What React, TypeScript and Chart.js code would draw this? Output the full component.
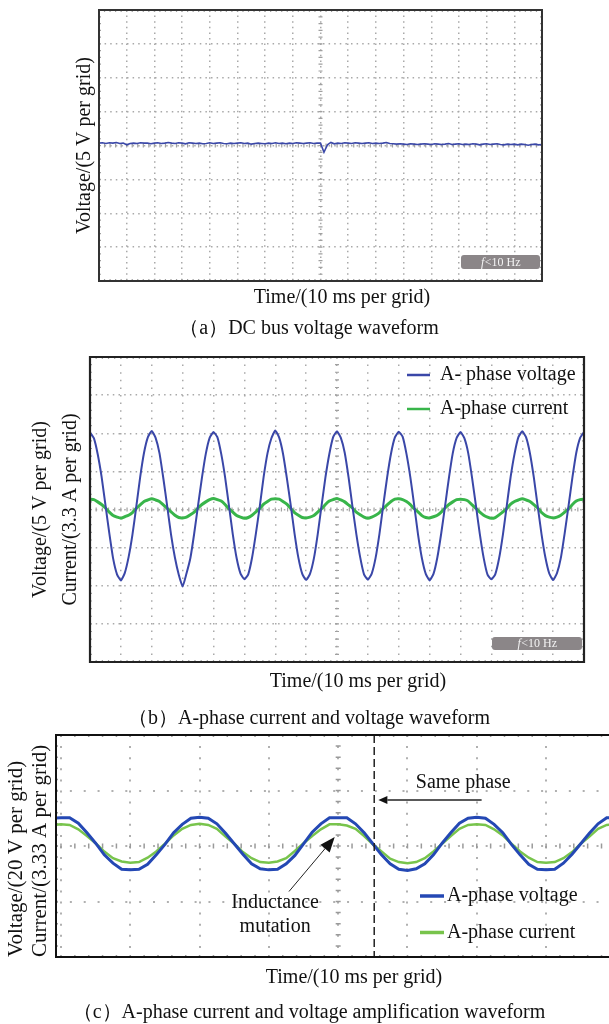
import React, { useEffect, useRef } from 'react';
import { Chart, registerables } from 'chart.js';

Chart.register(...registerables);

const SERIF = "'Liberation Serif', 'Times New Roman', serif";

// ---------- (a) DC bus voltage, divisions (5 V per grid), sample step 0.125 grid ----------
const A_T0 = 0;
const A_DT = 0.125;
const A_DC_BUS_VOLTAGE = [
  0.07, 0.08, 0.06, 0.08, 0.07, 0.09, 0.06, 0.07,
  0.02, 0.06, 0.07, 0.06, 0.08, 0.07, 0.07, 0.05,
  0.07, 0.08, 0.06, 0.07, 0.09, 0.07, 0.06, 0.08,
  0.07, 0.05, 0.08, 0.07, 0.06, 0.07, 0.05, 0.06,
  0.08, 0.06, 0.07, 0.08, 0.06, 0.05, 0.07, 0.06,
  0.07, 0.08, 0.06, 0.07, 0.04, 0.06, 0.07, 0.06,
  0.05, 0.07, 0.06, 0.08, 0.06, 0.07, 0.05, 0.07,
  0.06, 0.08, 0.07, 0.06, 0.07, 0.08, 0.06, 0.07,
  0.07, -0.2, 0.02, 0.09, 0.05, 0.07, 0.06, 0.08,
  0.07, 0.06, 0.08, 0.07, 0.06, 0.07, 0.08, 0.06,
  0.07, 0.06, 0.07, 0.09, 0.06, 0.05, 0.04, 0.05,
  0.04, 0.03, 0.05, 0.04, 0.03, 0.04, 0.05, 0.04,
  0.03, 0.05, 0.04, 0.03, 0.04, 0.06, 0.03, 0.04,
  0.05, 0.03, 0.04, 0.03, 0.05, 0.04, 0.02, 0.04,
  0.05, 0.03, 0.04, 0.05, 0.03, 0.02, 0.04, 0.03,
  0.04, 0.02, 0.04, 0.03, 0.01, 0.03, 0.04, 0.02, 0.03,
];

// ---------- (b) A-phase voltage / current, divisions, sample step 0.125 grid ----------
const B_T0 = 0;
const B_DT = 0.125;
const B_PHASE_VOLTAGE = [
  2.02, 1.87, 1.45, 0.86, 0.12, -0.62, -1.29, -1.7, -1.86, -1.67, -1.25, -0.66, 0.08, 0.85, 1.49, 1.9,
  2.06, 1.88, 1.48, 0.82, 0.09, -0.66, -1.26, -1.71, -2.02, -1.68, -1.28, -0.63, 0.11, 0.83, 1.46, 1.88,
  2.03, 1.9, 1.46, 0.85, 0.1, -0.65, -1.28, -1.68, -1.83, -1.7, -1.26, -0.62, 0.09, 0.86, 1.48, 1.87,
  2.07, 1.89, 1.47, 0.83, 0.12, -0.63, -1.27, -1.69, -1.85, -1.69, -1.29, -0.65, 0.1, 0.84, 1.45, 1.9,
  2.05, 1.88, 1.49, 0.84, 0.08, -0.64, -1.25, -1.7, -1.84, -1.68, -1.27, -0.64, 0.12, 0.85, 1.47, 1.89,
  2.04, 1.91, 1.46, 0.85, 0.11, -0.66, -1.28, -1.69, -1.86, -1.69, -1.26, -0.63, 0.09, 0.83, 1.48, 1.88,
  2.03, 1.87, 1.48, 0.83, 0.1, -0.64, -1.27, -1.71, -1.83, -1.7, -1.28, -0.65, 0.11, 0.86, 1.46, 1.9,
  2.05, 1.89, 1.47, 0.84, 0.09, -0.65, -1.26, -1.68, -1.85, -1.67, -1.27, -0.62, 0.1, 0.84, 1.49, 1.88,
  2.03,
];
const B_PHASE_CURRENT = [
  0.27, 0.26, 0.2, 0.13, 0.04, -0.07, -0.16, -0.2, -0.23, -0.19, -0.15, -0.08, 0.03, 0.12, 0.21, 0.25,
  0.28, 0.25, 0.21, 0.12, 0.03, -0.06, -0.15, -0.21, -0.22, -0.2, -0.14, -0.07, 0.04, 0.13, 0.2, 0.26,
  0.29, 0.26, 0.22, 0.13, 0.02, -0.07, -0.16, -0.2, -0.23, -0.21, -0.15, -0.06, 0.03, 0.14, 0.21, 0.27,
  0.28, 0.27, 0.21, 0.14, 0.03, -0.08, -0.15, -0.21, -0.22, -0.2, -0.16, -0.07, 0.02, 0.13, 0.22, 0.26,
  0.29, 0.25, 0.2, 0.12, 0.04, -0.07, -0.14, -0.2, -0.23, -0.2, -0.15, -0.08, 0.03, 0.12, 0.21, 0.27,
  0.28, 0.26, 0.21, 0.13, 0.02, -0.06, -0.16, -0.21, -0.22, -0.19, -0.15, -0.07, 0.04, 0.13, 0.2, 0.26,
  0.27, 0.26, 0.22, 0.12, 0.03, -0.07, -0.15, -0.2, -0.23, -0.21, -0.14, -0.06, 0.03, 0.14, 0.21, 0.25,
  0.28, 0.25, 0.21, 0.13, 0.04, -0.08, -0.16, -0.2, -0.22, -0.2, -0.15, -0.07, 0.02, 0.13, 0.22, 0.26,
  0.27,
];

// ---------- (c) amplified A-phase voltage / current, divisions, sample step 0.125 grid ----------
const C_T0 = -0.125;
const C_DT = 0.125;
const C_PHASE_VOLTAGE = [
  0.5,
  0.51, 0.51, 0.41, 0.24, 0.05, -0.16, -0.31, -0.42, -0.43, -0.42, -0.33, -0.16, 0.03, 0.24, 0.39, 0.5,
  0.52, 0.5, 0.4, 0.23, 0.04, -0.15, -0.32, -0.41, -0.43, -0.42, -0.32, -0.17, 0.04, 0.25, 0.4, 0.51,
  0.51, 0.51, 0.4, 0.24, 0.04, -0.16, -0.32, -0.42, -0.44, -0.41, -0.32, -0.16, 0.05, 0.24, 0.41, 0.5,
  0.52, 0.5, 0.39, 0.24, 0.03, -0.16, -0.33, -0.42, -0.43, -0.42, -0.31, -0.15, 0.04, 0.23, 0.4, 0.51,
  0.51,
];
const C_PHASE_CURRENT = [
  0.38,
  0.39, 0.38, 0.3, 0.18, 0.05, -0.1, -0.22, -0.28, -0.3, -0.29, -0.21, -0.1, 0.04, 0.19, 0.31, 0.38,
  0.4, 0.38, 0.31, 0.17, 0.04, -0.11, -0.22, -0.29, -0.3, -0.28, -0.22, -0.09, 0.05, 0.18, 0.3, 0.39,
  0.39, 0.37, 0.31, 0.18, 0.03, -0.1, -0.23, -0.29, -0.31, -0.29, -0.22, -0.1, 0.04, 0.18, 0.31, 0.38,
  0.39, 0.38, 0.3, 0.19, 0.04, -0.1, -0.21, -0.29, -0.3, -0.29, -0.22, -0.11, 0.04, 0.17, 0.31, 0.38,
  0.39,
];

// annotations of (c), in grid units
const C_SAME_PHASE_T = 4.52;
const C_ARROWS = [
  { from: [6.07, 0.83], to: [4.58, 0.83], head: 9, headW: 4, width: 1.5 },
  { from: [3.29, -0.82], to: [3.95, 0.16], head: 15, headW: 6, width: 1 },
];
const C_NOTES = [
  { x: 5.805, y: 1.135, text: 'Same phase' },
  { x: 3.09, y: -1.02, text: 'Inductance' },
  { x: 3.09, y: -1.455, text: 'mutation' },
];

const toXY = (vals: number[], t0: number, dt: number) => vals.map((v, i) => ({ x: t0 + i * dt, y: v }));

const scopePlugin = {
  id: 'scope',
  beforeDatasetsDraw(chart: any, _a: any, o: any) {
    const { ctx, chartArea: ca } = chart;
    const xs = chart.scales.x;
    const ys = chart.scales.y;
    const cx = xs.getPixelForValue(o.centerX);
    const cy = ys.getPixelForValue(0);
    ctx.save();
    ctx.strokeStyle = o.tickColor;
    ctx.lineWidth = o.tickWidth;
    ctx.beginPath();
    for (let k = Math.ceil(xs.min * 5); k <= Math.floor(xs.max * 5); k++) {
      const px = xs.getPixelForValue(k / 5);
      ctx.moveTo(px, ca.top);
      ctx.lineTo(px, ca.top + o.edgeTick);
      ctx.moveTo(px, ca.bottom);
      ctx.lineTo(px, ca.bottom - o.edgeTick);
      ctx.moveTo(px, cy - o.centerTick / 2);
      ctx.lineTo(px, cy + o.centerTick / 2);
    }
    for (let k = Math.ceil(ys.min * 5); k <= Math.floor(ys.max * 5); k++) {
      const py = ys.getPixelForValue(k / 5);
      ctx.moveTo(ca.left, py);
      ctx.lineTo(ca.left + o.edgeTick, py);
      if (o.frameRight) {
        ctx.moveTo(ca.right, py);
        ctx.lineTo(ca.right - o.edgeTick, py);
      }
      ctx.moveTo(cx - o.centerTick / 2, py);
      ctx.lineTo(cx + o.centerTick / 2, py);
    }
    ctx.stroke();
    ctx.restore();
  },
  afterDatasetsDraw(chart: any, _a: any, o: any) {
    const { ctx, chartArea: ca } = chart;
    const xs = chart.scales.x;
    const ys = chart.scales.y;
    ctx.save();

    if (o.annot) {
      const A = o.annot;
      const vx = xs.getPixelForValue(A.vlineX);
      ctx.strokeStyle = '#222';
      ctx.lineWidth = 1.5;
      ctx.setLineDash([8, 4]);
      ctx.beginPath();
      ctx.moveTo(vx, ca.top);
      ctx.lineTo(vx, ca.bottom);
      ctx.stroke();
      ctx.setLineDash([]);
      A.arrows.forEach((a: any) => {
        const x1 = xs.getPixelForValue(a.from[0]);
        const y1 = ys.getPixelForValue(a.from[1]);
        const x2 = xs.getPixelForValue(a.to[0]);
        const y2 = ys.getPixelForValue(a.to[1]);
        const len = Math.hypot(x2 - x1, y2 - y1);
        const ux = (x2 - x1) / len;
        const uy = (y2 - y1) / len;
        const bx = x2 - ux * a.head;
        const by = y2 - uy * a.head;
        ctx.strokeStyle = '#222';
        ctx.fillStyle = '#111';
        ctx.lineWidth = a.width;
        ctx.beginPath();
        ctx.moveTo(x1, y1);
        ctx.lineTo(bx, by);
        ctx.stroke();
        ctx.beginPath();
        ctx.moveTo(x2, y2);
        ctx.lineTo(bx - uy * a.headW, by + ux * a.headW);
        ctx.lineTo(bx + uy * a.headW, by - ux * a.headW);
        ctx.closePath();
        ctx.fill();
      });
      ctx.fillStyle = '#111';
      ctx.font = `${A.size}px ${SERIF}`;
      ctx.textAlign = 'center';
      ctx.textBaseline = 'middle';
      A.notes.forEach((t: any) => {
        ctx.fillText(t.text, xs.getPixelForValue(t.x), ys.getPixelForValue(t.y));
      });
    }

    if (o.legend) {
      const L = o.legend;
      chart.data.datasets.forEach((ds: any, i: number) => {
        const y = ca.top + L.y + i * L.rowGap;
        ctx.strokeStyle = ds.borderColor;
        ctx.lineWidth = L.lineWidth;
        ctx.beginPath();
        ctx.moveTo(ca.left + L.x, y);
        ctx.lineTo(ca.left + L.x + L.lineLen, y);
        ctx.stroke();
        ctx.fillStyle = '#111';
        ctx.font = `${L.size}px ${SERIF}`;
        ctx.textAlign = 'left';
        ctx.textBaseline = 'middle';
        ctx.fillText(ds.label, ca.left + L.textX, y);
      });
    }

    if (o.freqBox) {
      const F = o.freqBox;
      const bx = ca.right - F.right - F.w;
      const by = ca.bottom - F.bottom - F.h;
      ctx.fillStyle = '#8b8688';
      ctx.beginPath();
      ctx.roundRect(bx, by, F.w, F.h, 3);
      ctx.fill();
      const f1 = `italic ${F.size}px ${SERIF}`;
      const f2 = `${F.size}px ${SERIF}`;
      ctx.font = f1;
      const w1 = ctx.measureText('f').width;
      ctx.font = f2;
      const w2 = ctx.measureText('<10 Hz').width;
      const tx = bx + (F.w - w1 - w2) / 2;
      const ty = by + F.h / 2 + 0.5;
      ctx.fillStyle = '#f4f4f4';
      ctx.textAlign = 'left';
      ctx.textBaseline = 'middle';
      ctx.font = f1;
      ctx.fillText('f', tx, ty);
      ctx.font = f2;
      ctx.fillText('<10 Hz', tx + w1 + 0.5, ty);
    }

    // frame
    ctx.strokeStyle = o.frameColor;
    ctx.lineWidth = o.frameWidth;
    ctx.beginPath();
    if (o.frameRight) {
      ctx.rect(ca.left, ca.top, ca.right - ca.left, ca.bottom - ca.top);
    } else {
      ctx.moveTo(chart.width + 5, ca.top);
      ctx.lineTo(ca.left, ca.top);
      ctx.lineTo(ca.left, ca.bottom);
      ctx.lineTo(chart.width + 5, ca.bottom);
    }
    ctx.stroke();
    ctx.restore();
  },
};

function makeConfig(p: any) {
  const grid = { color: p.gridColor, lineWidth: p.gridWidth, drawTicks: false };
  return {
    type: 'line',
    data: { datasets: p.datasets },
    plugins: [scopePlugin],
    options: {
      responsive: false,
      animation: false,
      events: [],
      layout: { padding: p.padding, autoPadding: false },
      elements: { point: { radius: 0 } },
      plugins: {
        legend: { display: false },
        title: { display: false },
        tooltip: { enabled: false },
        scope: p.scope,
      },
      scales: {
        x: {
          type: 'linear',
          min: p.xMin,
          max: p.xMax,
          ticks: { display: false, stepSize: 1, includeBounds: false },
          grid,
          border: { display: false, dash: p.xDash },
        },
        y: {
          type: 'linear',
          min: p.yMin,
          max: p.yMax,
          ticks: { display: false, stepSize: 1, includeBounds: false },
          grid,
          border: { display: false, dash: p.yDash },
          title: {
            display: true,
            text: p.yTitle,
            color: '#111',
            align: p.yTitleAlign,
            font: { family: SERIF, size: p.yTitleSize, lineHeight: p.yTitleLH },
            padding: { top: 0, bottom: p.yTitlePadBottom },
          },
        },
      },
    },
  };
}

const configA = () =>
  makeConfig({
    padding: { top: 10, bottom: 9, left: 73, right: 67 },
    xMin: 0, xMax: 16, yMin: -4, yMax: 4,
    gridColor: '#a9a9a9', gridWidth: 1.5,
    xDash: [1.5, 4.1], yDash: [1.5, 4.1],
    yTitle: 'Voltage/(5 V per grid)', yTitleSize: 20, yTitleLH: 1.2, yTitlePadBottom: 2, yTitleAlign: 'center',
    datasets: [
      {
        label: 'DC bus voltage',
        data: toXY(A_DC_BUS_VOLTAGE, A_T0, A_DT),
        borderColor: '#3b48a8',
        borderWidth: 1.6,
        pointRadius: 0,
        tension: 0,
      },
    ],
    scope: {
      centerX: 8, edgeTick: 2, centerTick: 4, tickColor: '#a0a0a0', tickWidth: 1.2,
      frameColor: '#333', frameWidth: 2, frameRight: true,
      freqBox: { w: 79, h: 14, right: 2, bottom: 12, size: 12 },
    },
  });

const configB = () =>
  makeConfig({
    padding: { top: 22, bottom: 8, left: 26, right: 25 },
    xMin: 0, xMax: 16, yMin: -4, yMax: 4,
    gridColor: '#a9a9a9', gridWidth: 1.5,
    xDash: [1.5, 6.1], yDash: [1.5, 4.2],
    yTitle: ['Voltage/(5 V per grid)', 'Current/(3.3 A per grid)'], yTitleSize: 20, yTitleLH: 1.5, yTitlePadBottom: 4, yTitleAlign: 'center',
    datasets: [
      {
        label: 'A- phase voltage',
        data: toXY(B_PHASE_VOLTAGE, B_T0, B_DT),
        borderColor: '#3a47a8',
        borderWidth: 2,
        pointRadius: 0,
        tension: 0.15,
      },
      {
        label: 'A-phase current',
        data: toXY(B_PHASE_CURRENT, B_T0, B_DT),
        borderColor: '#38b54a',
        borderWidth: 3,
        pointRadius: 0,
        tension: 0.15,
      },
    ],
    scope: {
      centerX: 8, edgeTick: 2, centerTick: 4, tickColor: '#a0a0a0', tickWidth: 1.2,
      frameColor: '#222', frameWidth: 2.2, frameRight: true,
      legend: { x: 317, lineLen: 23, textX: 350, y: 18, rowGap: 34, lineWidth: 2.5, size: 20 },
      freqBox: { w: 90, h: 13, right: 2, bottom: 12, size: 12 },
    },
  });

const configC = () =>
  makeConfig({
    padding: { top: 10, bottom: 8, left: 4, right: 0 },
    xMin: -0.072, xMax: 7.908, yMin: -2, yMax: 2,
    gridColor: '#b0b0b0', gridWidth: 2,
    xDash: [2, 9.1], yDash: [2, 11.86],
    yTitle: ['Voltage/(20 V per grid)', 'Current/(3.33 A per grid)'], yTitleSize: 21, yTitleLH: 1.1667, yTitlePadBottom: 3, yTitleAlign: 'start',
    datasets: [
      {
        label: 'A-phase voltage',
        data: toXY(C_PHASE_VOLTAGE, C_T0, C_DT),
        borderColor: '#2448b4',
        borderWidth: 3,
        pointRadius: 0,
        tension: 0,
      },
      {
        label: 'A-phase current',
        data: toXY(C_PHASE_CURRENT, C_T0, C_DT),
        borderColor: '#78c44c',
        borderWidth: 2.5,
        pointRadius: 0,
        tension: 0,
      },
    ],
    scope: {
      centerX: 4, edgeTick: 2, centerTick: 5, tickColor: '#9a9a9a', tickWidth: 1.5,
      frameColor: '#111', frameWidth: 2, frameRight: false,
      legend: { x: 364, lineLen: 24, textX: 391, y: 161, rowGap: 36.5, lineWidth: 3.5, size: 20 },
      annot: { vlineX: C_SAME_PHASE_T, arrows: C_ARROWS, notes: C_NOTES, size: 20 },
    },
  });

function ScopeChart({ top, height, config }: { top: number; height: number; config: () => any }) {
  const ref = useRef<HTMLCanvasElement | null>(null);
  useEffect(() => {
    if (!ref.current) return;
    const chart = new Chart(ref.current, config() as any);
    return () => chart.destroy();
  }, []);
  return (
    <canvas
      ref={ref}
      width={609}
      height={height}
      style={{ position: 'absolute', left: 0, top, width: 609, height, display: 'block' }}
    />
  );
}

function Label({ cx, cy, text, size = 20 }: { cx: number; cy: number; text: string; size?: number }) {
  const lh = Math.round(size * 1.2);
  return (
    <div
      style={{
        position: 'absolute',
        left: cx - 300,
        width: 600,
        top: cy - lh / 2,
        height: lh,
        lineHeight: `${lh}px`,
        fontSize: size,
        fontFamily: SERIF,
        textAlign: 'center',
        whiteSpace: 'nowrap',
        color: '#111',
      }}
    >
      {text}
    </div>
  );
}

export default function App() {
  return (
    <div
      style={{
        position: 'absolute',
        left: 0,
        top: 0,
        width: 609,
        height: 1024,
        overflow: 'hidden',
        background: '#fff',
      }}
    >
      <ScopeChart top={0} height={290} config={configA} />
      <Label cx={342} cy={296} text="Time/(10 ms per grid)" />
      <Label cx={309} cy={327} text="（a）DC bus voltage waveform" />

      <ScopeChart top={335} height={335} config={configB} />
      <Label cx={358} cy={680} text="Time/(10 ms per grid)" />
      <Label cx={309} cy={717} text="（b）A-phase current and voltage waveform" />

      <ScopeChart top={725} height={240} config={configC} />
      <Label cx={354} cy={976} text="Time/(10 ms per grid)" />
      <Label cx={309} cy={1011} text="（c）A-phase current and voltage amplification waveform" />
    </div>
  );
}
